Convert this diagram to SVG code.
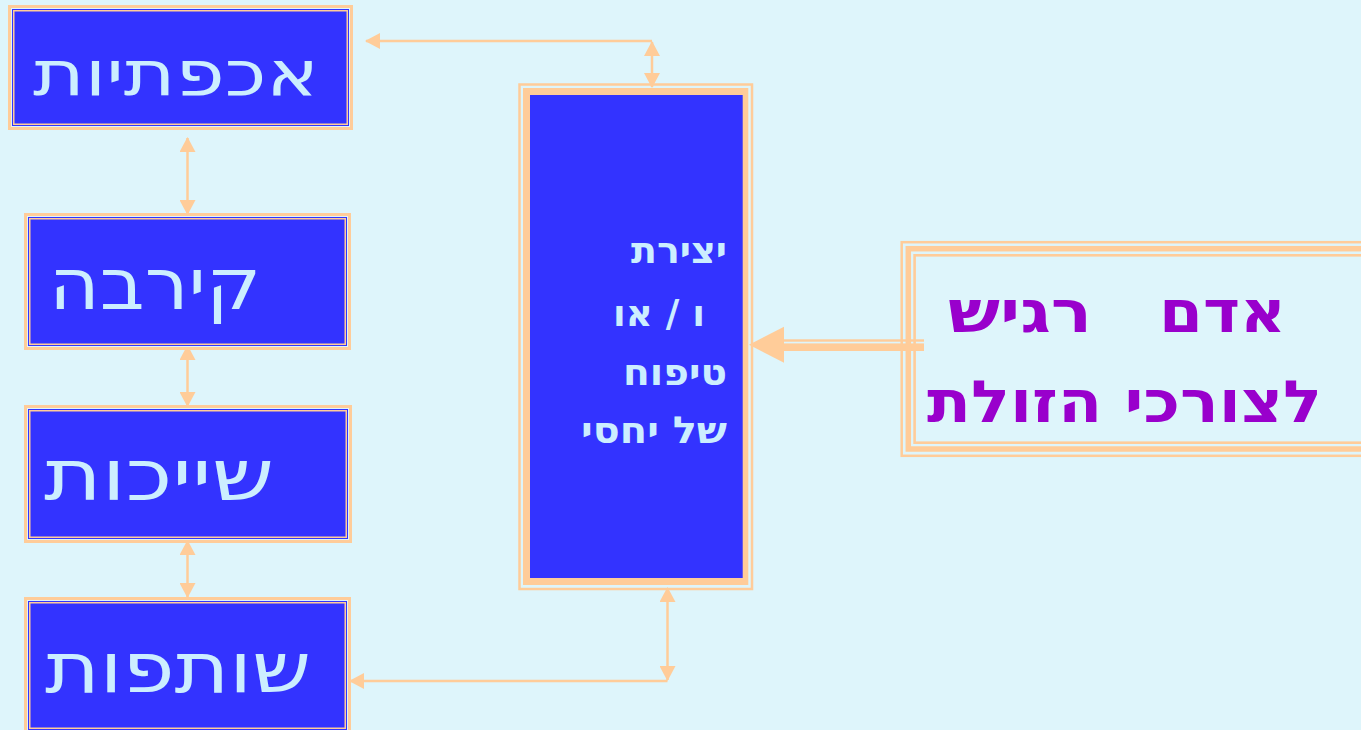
<svg xmlns="http://www.w3.org/2000/svg" width="1361" height="730" viewBox="0 0 1361 730">
<defs>
<style>
.bg{fill:#DEF5FB}
.pe{fill:#FFCC99}
.bl{fill:#3333FF}
.pl{fill:none;stroke:#FFCC99;stroke-width:1.5}
.lbl{font-family:"DejaVu Sans",sans-serif;fill:#CCEEFF;text-anchor:end}
.mid{font-family:"DejaVu Sans",sans-serif;font-weight:bold;font-size:37px;fill:#CCEEFF;text-anchor:end}
.rt{font-family:"DejaVu Sans",sans-serif;font-weight:bold;font-size:58px;fill:#9900CC;text-anchor:end}
.con{fill:none;stroke:#FFCC99;stroke-width:2.5}
</style>
<marker id="ah" markerUnits="userSpaceOnUse" viewBox="0 0 15 16" markerWidth="15" markerHeight="16" refX="14" refY="8" orient="auto-start-reverse">
<path d="M0,0 L15,8 L0,16 z" fill="#FFCC99"/>
</marker>
</defs>
<rect class="bg" x="0" y="0" width="1361" height="730"/>

<g id="connectors">
<path class="con" d="M366,41 H652" marker-start="url(#ah)"/>
<path class="con" d="M652,42 V87" marker-start="url(#ah)" marker-end="url(#ah)"/>
<path class="con" d="M187.5,138 V214" marker-start="url(#ah)" marker-end="url(#ah)"/>
<path class="con" d="M187.5,346 V406" marker-start="url(#ah)" marker-end="url(#ah)"/>
<path class="con" d="M187.5,541 V597" marker-start="url(#ah)" marker-end="url(#ah)"/>
<path class="con" d="M667.5,588 V680" marker-start="url(#ah)" marker-end="url(#ah)"/>
<path class="con" d="M350,681 H667.5" marker-start="url(#ah)"/>
<g id="big-arrow">
<polygon class="pe" points="749,344.7 784,326.7 784,362.7"/>
<rect class="pe" x="783" y="339.3" width="141" height="2.4"/>
<rect class="pe" x="783" y="343.4" width="141" height="7.6"/>
</g>
</g>

<g id="n1">
<rect class="pe" x="8" y="5" width="345" height="125"/>
<rect class="bg" x="11" y="8" width="339" height="119"/>
<rect class="bl" x="12" y="9" width="337" height="117"/>
<rect class="pl" x="13.75" y="10.75" width="333.5" height="113.5"/>
<text class="lbl" x="319" y="95" font-size="63" textLength="286" lengthAdjust="spacingAndGlyphs">אכפתיות</text>
</g>

<g id="n2">
<rect class="pe" x="24" y="213" width="327" height="137"/>
<rect class="bg" x="27" y="216" width="321" height="131"/>
<rect class="bl" x="28" y="217" width="319" height="129"/>
<rect class="pl" x="29.75" y="218.75" width="315.5" height="125.5"/>
<text class="lbl" x="261" y="309" font-size="71" textLength="212" lengthAdjust="spacingAndGlyphs">קירבה</text>
</g>

<g id="n3">
<rect class="pe" x="24" y="405" width="328" height="138"/>
<rect class="bg" x="27" y="408" width="322" height="132"/>
<rect class="bl" x="28" y="409" width="320" height="130"/>
<rect class="pl" x="29.75" y="410.75" width="316.5" height="126.5"/>
<text class="lbl" x="274" y="500" font-size="71" textLength="230" lengthAdjust="spacingAndGlyphs">שייכות</text>
</g>

<g id="n4">
<rect class="pe" x="24" y="597" width="327" height="137"/>
<rect class="bg" x="27" y="600" width="321" height="131"/>
<rect class="bl" x="28" y="601" width="319" height="129"/>
<rect class="pl" x="29.75" y="602.75" width="315.5" height="125.5"/>
<text class="lbl" x="311" y="692" font-size="70" textLength="266" lengthAdjust="spacingAndGlyphs">שותפות</text>
</g>

<g id="n5">
<rect x="519.5" y="84.5" width="232.5" height="504.5" fill="none" stroke="#FFCC99" stroke-width="2.5"/>
<rect class="pe" x="523" y="88" width="225.3" height="497"/>
<rect class="bl" x="530" y="95" width="212.7" height="483"/>
<text class="mid" x="727" y="263" textLength="96" lengthAdjust="spacingAndGlyphs">יצירת</text>
<text class="mid" x="705" y="326" textLength="92" lengthAdjust="spacingAndGlyphs">ו / או</text>
<text class="mid" x="727" y="385" textLength="104" lengthAdjust="spacingAndGlyphs">טיפוח</text>
<text class="mid" x="727" y="443" textLength="146" lengthAdjust="spacingAndGlyphs">של יחסי</text>
</g>

<g id="n6">
<rect x="901.7" y="242.2" width="500" height="213.6" fill="none" stroke="#FFCC99" stroke-width="2.5"/>
<rect x="908.3" y="248.7" width="500" height="200.3" fill="none" stroke="#FFCC99" stroke-width="5.5"/>
<rect x="914.6" y="255.3" width="500" height="187.4" fill="none" stroke="#FFCC99" stroke-width="2.6"/>
<text class="rt" y="332"><tspan x="1286" textLength="127" lengthAdjust="spacingAndGlyphs">אדם</tspan><tspan x="1092" textLength="144" lengthAdjust="spacingAndGlyphs">רגיש</tspan></text>
<text class="rt" x="1322" y="422" textLength="395" lengthAdjust="spacingAndGlyphs">לצורכי הזולת</text>
</g>
</svg>
